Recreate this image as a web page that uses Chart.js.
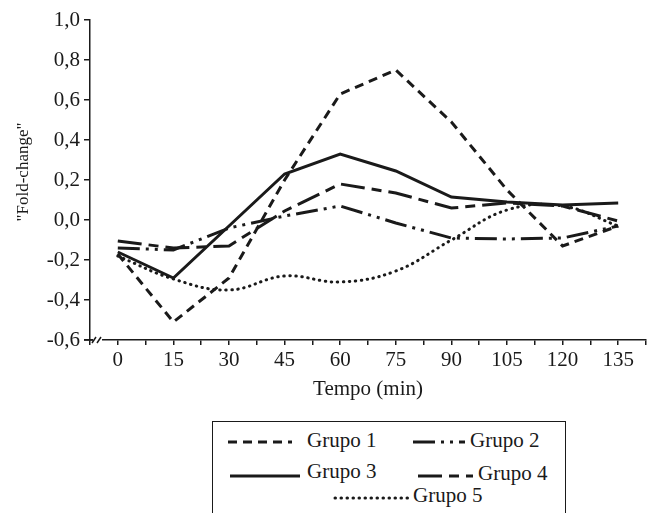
<!DOCTYPE html>
<html>
<head>
<meta charset="utf-8">
<script src="https://cdn.jsdelivr.net/npm/chart.js@4.4.1/dist/chart.umd.min.js"></script>
<style>
  html, body { margin: 0; padding: 0; background: #fff; }
  body { width: 655px; height: 513px; position: relative; overflow: hidden; font-family: "Liberation Serif", serif; color: #1a1a1a; }
  #wrap { position: absolute; left: 0; top: 0; width: 655px; height: 405px; }
  #legend { position: absolute; left: 212px; top: 421px; width: 354px; height: 110px; border: 1.5px solid #1a1a1a; box-sizing: border-box; }
  #legend svg { position: absolute; overflow: visible; }
  #legend span { position: absolute; font-size: 21px; line-height: 21px; white-space: nowrap; }
</style>
</head>
<body>
<div id="wrap"><canvas id="chart" width="655" height="405"></canvas></div>
<div id="legend"></div>
<script>
// ========
// Data
// ========
const minutes = [0, 15, 30, 45, 60, 75, 90, 105, 120, 135];
const grupo1 = [-0.17, -0.51, -0.29, 0.20, 0.63, 0.75, 0.49, 0.15, -0.13, -0.03];
const grupo2 = [-0.14, -0.15, -0.04, 0.02, 0.07, -0.015, -0.09, -0.095, -0.09, -0.03];
const grupo3 = [-0.16, -0.29, -0.03, 0.23, 0.33, 0.245, 0.115, 0.09, 0.075, 0.085];
const grupo4 = [-0.105, -0.14, -0.13, 0.045, 0.18, 0.135, 0.06, 0.085, 0.07, -0.005];
const grupo5 = [-0.18, -0.295, -0.35, -0.28, -0.31, -0.255, -0.10, 0.05, 0.07, -0.03];
const seriesNames = ["Grupo 1", "Grupo 2", "Grupo 3", "Grupo 4", "Grupo 5"];
const yTicks = [-0.6, -0.4, -0.2, 0.0, 0.2, 0.4, 0.6, 0.8, 1.0];

const ink = "#1a1a1a";

// Line styles per group (dash patterns as in the printed figure)
const styles = [
    { dash: [9, 6], cap: "butt", tension: 0 },
    { dash: [22, 6, 3, 6, 3, 6], cap: "butt", tension: 0 },
    { dash: [], cap: "butt", tension: 0 },
    { dash: [24, 7, 10, 7], cap: "butt", tension: 0 },
    { dash: [0.5, 5.5], cap: "round", tension: 0.4 }
];

const toPoints = arr => arr.map((v, i) => ({ x: minutes[i], y: v }));
const allSeries = [grupo1, grupo2, grupo3, grupo4, grupo5];

const datasets = allSeries.map((s, i) => ({
    label: seriesNames[i],
    data: toPoints(s),
    borderColor: ink,
    borderWidth: 3,
    borderDash: styles[i].dash,
    borderCapStyle: styles[i].cap,
    tension: styles[i].tension,
    pointRadius: 0,
    fill: false
}));

// Axis break "//" next to the origin, plus the rotated y title
const extras = {
    id: "extras",
    afterDraw(chart) {
        const { ctx, chartArea } = chart;
        const y = chartArea.bottom, x = chartArea.left;
        ctx.save();
        ctx.strokeStyle = ink;
        ctx.lineWidth = 1.5;
        ctx.beginPath();
        ctx.moveTo(x - 6, y); ctx.lineTo(x + 3, y);
        ctx.stroke();
        ctx.fillStyle = "#fff";
        ctx.fillRect(x + 3, y - 2, 9, 4);
        ctx.beginPath();
        ctx.moveTo(x + 2, y + 3); ctx.lineTo(x + 6, y - 3);
        ctx.moveTo(x + 7, y + 3); ctx.lineTo(x + 11, y - 3);
        ctx.stroke();

        ctx.translate(24, 172);
        ctx.rotate(-Math.PI / 2);
        ctx.fillStyle = ink;
        ctx.font = "17px 'Liberation Serif'";
        ctx.textAlign = "center";
        ctx.textBaseline = "middle";
        ctx.fillText("\"Fold-change\"", 0, 0);
        ctx.restore();
    }
};

const font = { family: "Liberation Serif", size: 21 };

new Chart(document.getElementById("chart"), {
    type: "line",
    data: { datasets },
    options: {
        responsive: false,
        animation: false,
        events: [],
        layout: { padding: { top: 20, right: 9, left: 0, bottom: 0 } },
        plugins: { legend: { display: false }, tooltip: { enabled: false } },
        scales: {
            x: {
                type: "linear",
                min: -7.5, max: 142.5,
                afterFit: s => { s.height = 65; },
                afterBuildTicks: s => {
                    s.ticks = [];
                    for (let v = -7.5; v <= 142.5; v += 7.5) s.ticks.push({ value: v });
                },
                ticks: {
                    autoSkip: false, maxRotation: 0, padding: 3, color: ink, font,
                    callback: v => (minutes.includes(v) ? String(v) : "")
                },
                grid: { drawOnChartArea: false, tickLength: 5, color: ink, lineWidth: 1.5 },
                border: { color: ink, width: 1.5 },
                title: { display: true, text: "Tempo (min)", color: ink, font, padding: { top: 0, bottom: 3 } }
            },
            y: {
                min: -0.6, max: 1.0,
                afterFit: s => { s.width = 90; },
                afterBuildTicks: s => { s.ticks = yTicks.map(v => ({ value: v })); },
                ticks: {
                    padding: 4, color: ink, font,
                    callback: v => (Math.abs(v) < 1e-9 ? 0 : v).toFixed(1).replace(".", ",")
                },
                grid: { drawOnChartArea: false, tickLength: 6, color: ink, lineWidth: 1.5 },
                border: { color: ink, width: 1.5 }
            }
        }
    },
    plugins: [extras]
});

// ============
// Legend (HTML, boxed like the figure)
// ============
const legendEl = document.getElementById("legend");
const legendLayout = [
    { x1: 15, x2: 79, y: 20, tx: 94, ty: 8 },
    { x1: 200, x2: 252, y: 20, tx: 257, ty: 8 },
    { x1: 17, x2: 87, y: 54, tx: 94, ty: 39 },
    { x1: 205, x2: 260, y: 54, tx: 265, ty: 41 },
    { x1: 122, x2: 199, y: 76, tx: 200, ty: 63 }
];
seriesNames.forEach((name, i) => {
    const L = legendLayout[i];
    const svg = document.createElementNS("http://www.w3.org/2000/svg", "svg");
    svg.setAttribute("width", L.x2 - L.x1);
    svg.setAttribute("height", 6);
    svg.style.left = L.x1 + "px";
    svg.style.top = (L.y - 3) + "px";
    const line = document.createElementNS("http://www.w3.org/2000/svg", "line");
    line.setAttribute("x1", 0); line.setAttribute("x2", L.x2 - L.x1);
    line.setAttribute("y1", 3); line.setAttribute("y2", 3);
    line.setAttribute("stroke", ink);
    line.setAttribute("stroke-width", 3);
    line.setAttribute("stroke-linecap", styles[i].cap);
    if (styles[i].dash.length) line.setAttribute("stroke-dasharray", styles[i].dash.join(" "));
    svg.appendChild(line);
    legendEl.appendChild(svg);
    const label = document.createElement("span");
    label.textContent = name;
    label.style.left = L.tx + "px";
    label.style.top = L.ty + "px";
    legendEl.appendChild(label);
});
</script>
</body>
</html>
